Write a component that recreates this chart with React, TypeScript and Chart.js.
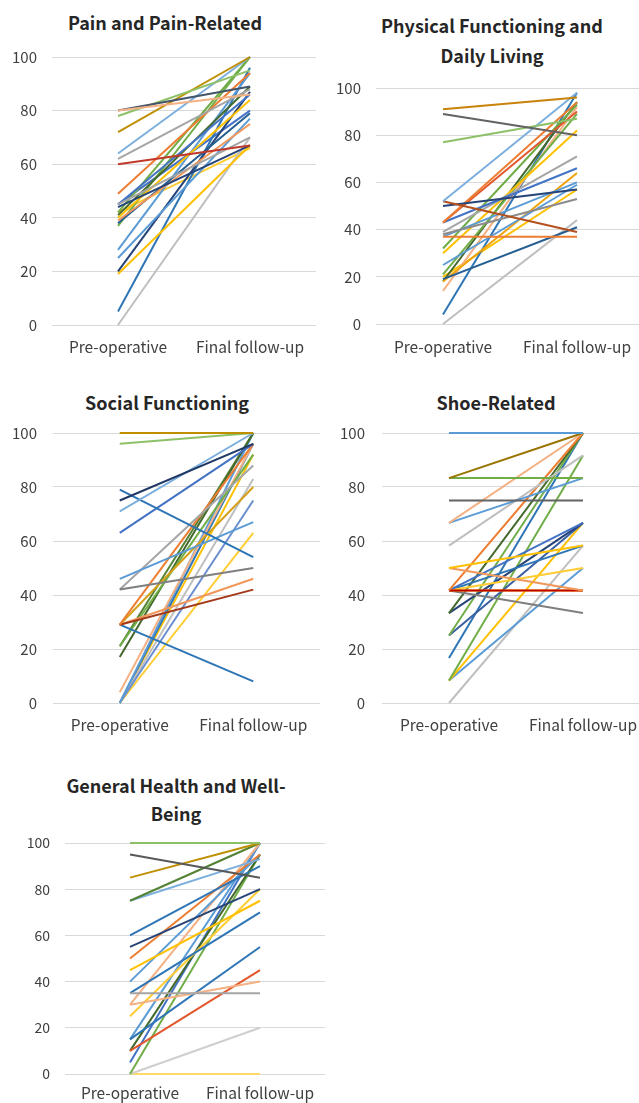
import React, { useEffect, useRef } from 'react';
import { Chart, registerables } from 'chart.js';

Chart.register(...registerables);

// ---------- data ----------
const CATEGORIES = ['Pre-operative', 'Final follow-up'];
const Y_TICK_MIN = 0;
const Y_TICK_MAX = 100;
const Y_TICK_STEP = 20;

// Pain and Pain-Related
const painPre = [80, 80, 78, 72, 64, 62, 60, 49, 45, 45, 44, 42, 41, 40, 39, 38, 37, 28, 25, 20, 19, 5, 0, 42, 45];
const painFinal = [86, 89, 95, 100, 100, 88, 67, 94, 70, 86, 67, 100, 89, 84, 75, 79, 100, 94, 77, 87, 67, 96, 70, 66, 80];
const painColors = ['#F4B183', '#44546A', '#8CC168', '#BF8F00', '#7CAFDD', '#A5A5A5', '#C0392B', '#ED7D31', '#A5A5A5', '#4472C4', '#264478', '#70AD47', '#43682B', '#FFC000', '#F1975A', '#255E91', '#70AD47', '#5B9BD5', '#5B9BD5', '#264478', '#FFC000', '#2E75B6', '#BFBFBF', '#FFCD33', '#4472C4'];

// Physical Functioning and Daily Living
const physPre = [91, 89, 77, 52, 52, 50, 43, 43, 43, 39, 38, 37, 37, 32, 30, 25, 21, 19, 18, 18, 14, 4, 0, 20];
const physFinal = [96, 80, 87, 98, 39, 57, 94, 90, 66, 71, 53, 37, 60, 93, 82, 59, 89, 41, 64, 94, 92, 98, 44, 57];
const physColors = ['#C9820A', '#636363', '#8CC168', '#7CAFDD', '#B3501E', '#264478', '#ED7D31', '#E2572B', '#4472C4', '#A5A5A5', '#8C8C8C', '#ED7D31', '#5B9BD5', '#70AD47', '#FFC000', '#5B9BD5', '#70AD47', '#255E91', '#F0A30A', '#43682B', '#F4B183', '#2E75B6', '#BFBFBF', '#FFC000'];

// Social Functioning
const socPre = [100, 96, 75, 71, 79, 63, 46, 42, 42, 29, 29, 29, 29, 29, 21, 17, 21, 4, 0, 0, 0, 0, 0, 0];
const socFinal = [100, 100, 96, 100, 54, 96, 67, 50, 88, 96, 42, 46, 8, 80, 92, 100, 100, 96, 100, 75, 63, 83, 96, 92];
const socColors = ['#BF8F00', '#8CC168', '#1F3864', '#7CAFDD', '#2E75B6', '#4472C4', '#5B9BD5', '#7F7F7F', '#A5A5A5', '#ED7D31', '#A33A1A', '#F1975A', '#2E75B6', '#D4A017', '#70AD47', '#43682B', '#548235', '#F4B183', '#5B9BD5', '#698ED0', '#FFCD33', '#BFBFBF', '#2E75B6', '#FFC000'];

// Shoe-Related
const shoePre = [100, 83.3, 83.3, 75, 66.7, 66.7, 58.3, 50, 50, 41.7, 41.7, 41.7, 41.7, 41.7, 41.7, 41.7, 33.3, 33.3, 25, 25, 16.7, 8.3, 8.3, 8.3, 0];
const shoeFinal = [100, 100, 83.3, 75, 100, 83.3, 91.7, 58.3, 41.7, 100, 41.7, 41.7, 33.3, 66.7, 50, 58.3, 100, 66.7, 100, 66.7, 100, 91.7, 66.7, 50, 58.3];
const shoeColors = ['#5B9BD5', '#997300', '#70AD47', '#636363', '#F4B183', '#5B9BD5', '#BFBFBF', '#FFC000', '#F1975A', '#ED7D31', '#C00000', '#FFC000', '#7F7F7F', '#4472C4', '#FFCD33', '#2E75B6', '#43682B', '#264478', '#70AD47', '#3A5FA0', '#2E75B6', '#70AD47', '#FFC000', '#5B9BD5', '#BFBFBF'];

// General Health and Well-Being
const genPre = [100, 95, 85, 75, 75, 60, 55, 50, 45, 40, 35, 35, 30, 30, 25, 15, 15, 10, 10, 5, 0, 0, 0];
const genFinal = [100, 85, 100, 100, 93, 90, 80, 95, 75, 95, 35, 70, 40, 100, 80, 55, 100, 45, 95, 100, 95, 20, 0];
const genColors = ['#8CC168', '#595959', '#BF8F00', '#548235', '#7CAFDD', '#2E75B6', '#264478', '#ED7D31', '#FFC000', '#5B9BD5', '#A5A5A5', '#2E75B6', '#F4B183', '#F4B183', '#FFCD33', '#2E75B6', '#5B9BD5', '#E2572B', '#43682B', '#4472C4', '#70AD47', '#D0CECE', '#FFD966'];

// ---------- styling / layout ----------
const FONT = '"Noto Sans CJK JP", "Noto Sans", sans-serif';
const TEXT = '#404040';
const TITLE = '#262626';
const GRID = '#d9d9d9';
const TOP_PAD = 32;
const X_AXIS_H = 40;

type Spec = {
  title: string[];
  pre: number[];
  fin: number[];
  colors: string[];
  canvasLeft: number;
  areaLeft: number;
  areaRight: number;
  areaTop: number;
  areaBottom: number;
  labelRight: number;
  tickSize: number;
  catSize: number;
  catPad: number;
  titleCx: number;
  titleY: number;
  titleLH: number;
};

const specs: Spec[] = [
  { title: ['Pain and Pain-Related'], pre: painPre, fin: painFinal, colors: painColors,
    canvasLeft: 0, areaLeft: 52, areaRight: 316, areaTop: 57, areaBottom: 325, labelRight: 37,
    tickSize: 15, catSize: 15.5, catPad: 5, titleCx: 165, titleY: 22, titleLH: 30 },
  { title: ['Physical Functioning and', 'Daily Living'], pre: physPre, fin: physFinal, colors: physColors,
    canvasLeft: 320, areaLeft: 376, areaRight: 644, areaTop: 88, areaBottom: 324, labelRight: 361,
    tickSize: 15, catSize: 15.5, catPad: 6, titleCx: 492, titleY: 25, titleLH: 30 },
  { title: ['Social Functioning'], pre: socPre, fin: socFinal, colors: socColors,
    canvasLeft: 0, areaLeft: 53, areaRight: 320, areaTop: 433, areaBottom: 703, labelRight: 37,
    tickSize: 15, catSize: 15.5, catPad: 5, titleCx: 167, titleY: 402, titleLH: 30 },
  { title: ['Shoe-Related'], pre: shoePre, fin: shoeFinal, colors: shoeColors,
    canvasLeft: 320, areaLeft: 382, areaRight: 650, areaTop: 433, areaBottom: 703, labelRight: 365,
    tickSize: 15, catSize: 15.5, catPad: 5, titleCx: 496, titleY: 402, titleLH: 30 },
  { title: ['General Health and Well-', 'Being'], pre: genPre, fin: genFinal, colors: genColors,
    canvasLeft: 0, areaLeft: 65, areaRight: 325, areaTop: 843, areaBottom: 1074, labelRight: 50,
    tickSize: 14, catSize: 15.5, catPad: 2, titleCx: 176, titleY: 785, titleLH: 28 },
];

function Panel({ spec }: { spec: Spec }) {
  const ref = useRef<HTMLCanvasElement>(null);
  const padRight = 2;
  const width = spec.areaRight - spec.canvasLeft + padRight;
  const top = spec.areaTop - TOP_PAD;
  const height = spec.areaBottom - top + X_AXIS_H;

  useEffect(() => {
    const canvas = ref.current;
    if (!canvas) return;
    const datasets = spec.pre.map((p, i) => ({
      data: [p, spec.fin[i]],
      borderColor: spec.colors[i],
      backgroundColor: spec.colors[i],
      borderWidth: 2,
      pointRadius: 0,
      pointHoverRadius: 0,
      tension: 0,
      fill: false,
      clip: false as any,
    }));
    const yWidth = spec.areaLeft - spec.canvasLeft;
    const chart = new Chart(canvas, {
      type: 'line',
      data: { labels: CATEGORIES, datasets },
      options: {
        animation: false,
        responsive: false,
        maintainAspectRatio: false,
        events: [],
        layout: { padding: { top: TOP_PAD, right: padRight, bottom: 0, left: 0 } },
        plugins: {
          legend: { display: false },
          title: { display: false },
          tooltip: { enabled: false },
        },
        scales: {
          x: {
            type: 'category',
            offset: true,
            grid: { display: false },
            border: { display: false },
            ticks: {
              color: TEXT,
              font: { family: FONT, size: spec.catSize },
              padding: spec.catPad,
              maxRotation: 0,
              autoSkip: false,
            },
            afterFit: (s: any) => { s.height = X_AXIS_H; },
          },
          y: {
            min: Y_TICK_MIN,
            max: Y_TICK_MAX,
            grid: { color: GRID, drawTicks: false, lineWidth: 1 },
            border: { display: false },
            ticks: {
              stepSize: Y_TICK_STEP,
              color: TEXT,
              font: { family: FONT, size: spec.tickSize },
              padding: spec.areaLeft - spec.labelRight,
            },
            afterFit: (s: any) => { s.width = yWidth; },
          },
        },
      },
    });
    return () => chart.destroy();
  }, [spec]);

  return (
    <>
      <div
        style={{
          position: 'absolute',
          left: spec.titleCx - 160,
          width: 320,
          top: spec.titleY - spec.titleLH / 2,
          textAlign: 'center',
          fontFamily: FONT,
          fontWeight: 700,
          fontSize: 18,
          lineHeight: `${spec.titleLH}px`,
          color: TITLE,
          whiteSpace: 'nowrap',
        }}
      >
        {spec.title.map((t, i) => (
          <div key={i}>{t}</div>
        ))}
      </div>
      <canvas
        ref={ref}
        width={width}
        height={height}
        style={{ position: 'absolute', left: spec.canvasLeft, top, width, height }}
      />
    </>
  );
}

export default function App() {
  return (
    <div
      style={{
        position: 'fixed',
        left: 0,
        top: 0,
        width: 639,
        height: 1103,
        overflow: 'hidden',
        background: '#ffffff',
      }}
    >
      {specs.map((s, i) => (
        <Panel key={i} spec={s} />
      ))}
    </div>
  );
}
